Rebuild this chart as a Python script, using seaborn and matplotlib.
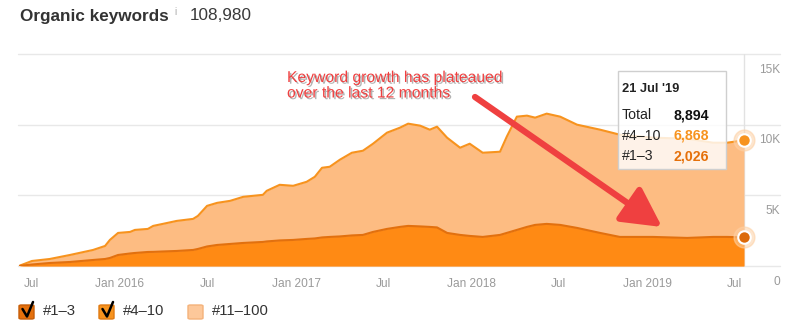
import numpy as np
import pandas as pd
import matplotlib
matplotlib.use("Agg")
import matplotlib.pyplot as plt
import matplotlib.patheffects as pe
from matplotlib.patches import Rectangle, FancyBboxPatch
from matplotlib.lines import Line2D
import seaborn as sns

# ---- data -------------------------------------------------------------
dates = [
    "2015-06-07", "2015-07-02", "2015-08-08", "2015-09-19", "2015-11-06", "2015-12-01",
    "2015-12-11", "2015-12-28", "2016-01-22", "2016-02-01", "2016-02-28", "2016-03-10",
    "2016-03-30", "2016-04-28", "2016-06-01", "2016-06-11", "2016-06-30", "2016-07-21",
    "2016-08-17", "2016-09-13", "2016-10-24", "2016-11-01", "2016-11-28", "2016-12-26",
    "2017-01-23", "2017-02-09", "2017-02-24", "2017-03-12", "2017-04-02", "2017-04-27",
    "2017-05-20", "2017-06-10", "2017-07-09", "2017-08-05", "2017-08-22", "2017-09-16",
    "2017-10-06", "2017-10-21", "2017-11-11", "2017-12-08", "2017-12-28", "2018-01-24",
    "2018-03-01", "2018-03-15", "2018-04-05", "2018-04-26", "2018-05-13", "2018-06-06",
    "2018-07-04", "2018-08-08", "2018-09-25", "2018-11-05", "2019-01-13", "2019-03-25",
    "2019-05-18", "2019-06-16", "2019-07-21",
]
top3 = [
    10, 106, 213, 284, 426, 496, 567, 780, 887, 922, 993, 1000, 1028, 1064, 1135, 1206,
    1383, 1489, 1560, 1631, 1702, 1738, 1809, 1844, 1915, 1950, 2021, 2057, 2092, 2163,
    2199, 2411, 2624, 2766, 2837, 2801, 2766, 2730, 2340, 2199, 2128, 2057, 2199, 2340,
    2553, 2766, 2908, 2979, 2908, 2695, 2340, 2057, 2057, 1986, 2057, 2057, 2026,
]
pos4_10 = [
    20, 249, 283, 496, 709, 922, 1277, 1560, 1524, 1631, 1631, 1837, 1951, 2127, 2198,
    2340, 2872, 2979, 3050, 3262, 3333, 3581, 3936, 3830, 4042, 4362, 4929, 4964, 5426,
    5851, 5957, 6241, 6809, 7021, 7234, 7128, 6879, 7128, 6738, 6170, 6524, 5957, 5886,
    6809, 8014, 7872, 7588, 7801, 7659, 7305, 7305, 7234, 7021, 7021, 6666, 6666, 6868,
]
x_ticks = ["2015-07-01", "2016-01-01", "2016-07-01", "2017-01-01", "2017-07-01",
           "2018-01-01", "2018-07-01", "2019-01-01", "2019-07-01"]
x_tick_labels = ["Jul", "Jan 2016", "Jul", "Jan 2017", "Jul", "Jan 2018", "Jul", "Jan 2019", "Jul"]
y_ticks = [0, 5000, 10000, 15000]
y_tick_labels = ["0", "5K", "10K", "15K"]
legend_labels = ["#1–3", "#4–10", "#11–100"]
title = "Organic keywords"
total_keywords = "108,980"
tooltip_date = "21 Jul '19"
callout = ["Keyword growth has plateaued", "over the last 12 months"]

# ---- style ------------------------------------------------------------
sns.set_style("white")
plt.rcParams["font.family"] = ["Liberation Sans", "DejaVu Sans"]

C_TOP3_FILL = "#FF8A14"
C_TOP3_LINE = "#E2700E"
C_410_FILL = "#FDBC82"
C_410_LINE = "#F7931E"
C_GRID = "#e8e8e8"
C_TICK = "#9a9a9a"
C_TEXT = "#333333"
C_RED = "#EF4040"

df = pd.DataFrame({"date": pd.to_datetime(dates), "top3": top3, "pos4_10": pos4_10})
df["total"] = df["top3"] + df["pos4_10"]

W, H = 800, 326
fig = plt.figure(figsize=(W / 100, H / 100), dpi=100)
ax = fig.add_axes([18 / W, (H - 266) / H, (780 - 18) / W, (266 - 54) / H])


def fx(px):
    return px / W


def fy(py):
    return (H - py) / H


# ---- stacked areas ----------------------------------------------------
ax.fill_between(df["date"], 0, df["total"], color=C_410_FILL, lw=0, zorder=2)
ax.fill_between(df["date"], 0, df["top3"], color=C_TOP3_FILL, lw=0, zorder=3)
sns.lineplot(data=df, x="date", y="total", ax=ax, color=C_410_LINE, lw=1.5, zorder=4)
sns.lineplot(data=df, x="date", y="top3", ax=ax, color=C_TOP3_LINE, lw=1.5, zorder=5)

ax.set_xlim(pd.Timestamp("2015-06-03"), pd.Timestamp("2019-10-04"))
ax.set_ylim(0, 15000)
for s in ax.spines.values():
    s.set_visible(False)
ax.set_xlabel("")
ax.set_ylabel("")

# horizontal grid + right-side labels under each line
ax.set_yticks([])
for v, lab in zip(y_ticks, y_tick_labels):
    ax.axhline(v, color=C_GRID, lw=1, zorder=1, clip_on=False)
    ax.annotate(lab, xy=(1.0, v), xycoords=("axes fraction", "data"),
                xytext=(0, -11.3), textcoords="offset points",
                ha="right", va="center", fontsize=8.6, color=C_TICK,
                annotation_clip=False)

ax.set_xticks(pd.to_datetime(x_ticks))
ax.set_xticklabels(x_tick_labels, fontsize=8.6, color=C_TICK)
ax.tick_params(axis="x", length=0, pad=8.5)

# hover crosshair and end markers
last = df["date"].iloc[-1]
ax.axvline(last, color="#e2e2e2", lw=1, zorder=1)
for val, col in [(df["total"].iloc[-1], C_410_LINE), (df["top3"].iloc[-1], "#DC6A0A")]:
    ax.plot([last], [val], "o", ms=15, color="#FDD0A4", alpha=0.55, zorder=6, clip_on=False)
    ax.plot([last], [val], "o", ms=9, mfc=col, mec="white", mew=1.5, zorder=7, clip_on=False)

# ---- header -----------------------------------------------------------
fig.text(fx(20), fy(20.5), title, fontsize=12.3, fontweight="bold", color=C_TEXT, va="baseline")
fig.text(fx(174.5), fy(15), "i", fontsize=7, color="#aaaaaa", va="baseline")
fig.text(fx(190), fy(20.5), total_keywords, fontsize=12.3, color="#3a3a3a", va="baseline")

# ---- tooltip ----------------------------------------------------------
fig.add_artist(Rectangle((fx(618), fy(169)), (726 - 618) / W, (169 - 71) / H,
                         transform=fig.transFigure, facecolor=(1, 1, 1, 0.82),
                         edgecolor="#cfcfcf", lw=1, zorder=10))
fig.text(fx(622), fy(92), tooltip_date, fontsize=9.3, fontweight="bold", color="#222", va="baseline", zorder=11)
rows = [("Total", f"{int(df['total'].iloc[-1]):,}", "#111111", 119),
        ("#4–10", f"{int(df['pos4_10'].iloc[-1]):,}", C_410_LINE, 139.5),
        ("#1–3", f"{int(df['top3'].iloc[-1]):,}", "#E5700A", 160)]
for lab, val, col, yb in rows:
    fig.text(fx(622), fy(yb), lab, fontsize=10.2, color="#222", va="baseline", zorder=11)
    fig.text(fx(673), fy(yb), val, fontsize=10.2, fontweight="bold", color=col, va="baseline", zorder=11)

# ---- callout ----------------------------------------------------------
shadow = [pe.withSimplePatchShadow(offset=(1.2, -1.2), shadow_rgbFace="#555555", alpha=0.45)]
for line, yb in zip(callout, [82, 97.5]):
    fig.text(fx(287), fy(yb), line, fontsize=11.3, color=C_RED, va="baseline",
             path_effects=shadow, zorder=12)

arrow = ax.annotate("", xy=(662, H - 227), xycoords="figure pixels",
                    xytext=(475, H - 97), textcoords="figure pixels",
                    arrowprops=dict(arrowstyle="-|>,head_length=1.7,head_width=0.9",
                                    mutation_scale=14, color=C_RED, lw=4.5,
                                    shrinkA=0, shrinkB=0),
                    annotation_clip=False, zorder=12)
arrow.arrow_patch.set_path_effects([pe.SimplePatchShadow(offset=(1.5, -1.5), shadow_rgbFace="#666666", alpha=0.4),
                                    pe.Normal()])

# ---- legend (checkbox style) ------------------------------------------
boxes = [(19, "#E5700C", "#C65D08", True, 43),
         (99, "#F7931E", "#E07A12", True, 123),
         (188, "#FDC89A", "#F4B27A", False, 212)]
for (bx, fc, ec, checked, tx), lab in zip(boxes, legend_labels):
    fig.add_artist(FancyBboxPatch((fx(bx), fy(319)), 15 / W, 14 / H,
                                  boxstyle="round,pad=0,rounding_size=0.003",
                                  transform=fig.transFigure, facecolor=fc, edgecolor=ec, lw=1))
    if checked:
        fig.add_artist(Line2D([fx(bx + 3.5), fx(bx + 8), fx(bx + 14)],
                              [fy(309), fy(316.5), fy(302)],
                              transform=fig.transFigure, color="black", lw=1.8,
                              solid_capstyle="round", solid_joinstyle="round"))
    fig.text(fx(tx), fy(311), lab, fontsize=10.7, color=C_TEXT, va="center")

fig.savefig("out.png", dpi=100)
